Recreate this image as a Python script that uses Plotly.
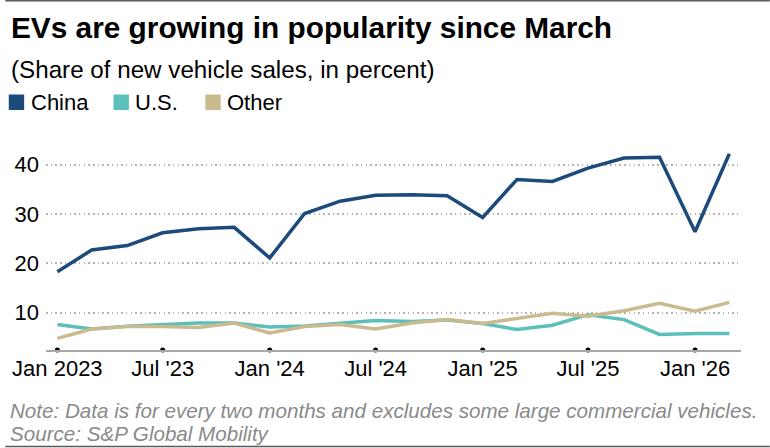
import plotly.graph_objects as go

# ---------------- data ----------------
dates = ["2023-01-01", "2023-03-01", "2023-05-01", "2023-07-01", "2023-09-01", "2023-11-01",
         "2024-01-01", "2024-03-01", "2024-05-01", "2024-07-01", "2024-09-01", "2024-11-01",
         "2025-01-01", "2025-03-01", "2025-05-01", "2025-07-01", "2025-09-01", "2025-11-01",
         "2026-01-01", "2026-03-01"]
china = [18.3, 22.7, 23.6, 26.2, 27.0, 27.3, 21.1, 30.1, 32.6, 33.8, 33.9, 33.7,
         29.3, 37.0, 36.6, 39.3, 41.35, 41.5, 26.4, 42.2]
us = [7.6, 6.7, 7.25, 7.6, 7.9, 7.9, 7.1, 7.3, 7.8, 8.4, 8.2, 8.5,
      7.8, 6.6, 7.45, 9.6, 8.6, 5.6, 5.8, 5.8]
other = [4.8, 6.7, 7.2, 7.2, 7.0, 7.9, 5.9, 7.2, 7.6, 6.7, 7.9, 8.6,
         7.8, 8.8, 9.9, 9.3, 10.4, 11.9, 10.3, 12.1]

series_names = ["China", "U.S.", "Other"]
series_values = [china, us, other]
series_colors = ["#1b4a7b", "#5bbfba", "#c9bb8f"]

x_tick_vals = ["2023-01-01", "2023-07-01", "2024-01-01", "2024-07-01",
               "2025-01-01", "2025-07-01", "2026-01-01"]
x_tick_text = ["Jan 2023", "Jul '23", "Jan '24", "Jul '24", "Jan '25", "Jul '25", "Jan '26"]
y_tick_vals = [10, 20, 30, 40]

title = "EVs are growing in popularity since March"
subtitle = "(Share of new vehicle sales, in percent)"
note = "Note: Data is for every two months and excludes some large commercial vehicles."
source = "Source: S&P Global Mobility"

# ---------------- layout constants ----------------
W, H = 770, 448
ML, MR, MT, MB = 41, 29, 140, 98
PW, PH = W - ML - MR, H - MT - MB
Y_RANGE = [2.44, 45.0]
X_RANGE = ["2022-12-12 12:00", "2026-03-21"]
FONT = "Liberation Sans, Arial, sans-serif"


def px_x(p):
    return (p - ML) / PW


def px_y(p):
    return (H - MB - p) / PH


fig = go.Figure()

for name, vals, col in zip(series_names, series_values, series_colors):
    fig.add_trace(go.Scatter(x=dates, y=vals, mode="lines", name=name,
                             line=dict(color=col, width=3.5), showlegend=False))

# tick dots on the x axis
fig.add_trace(go.Scatter(x=x_tick_vals, y=[Y_RANGE[0]] * len(x_tick_vals), mode="markers",
                         marker=dict(color="black", size=5), cliponaxis=False,
                         showlegend=False, hoverinfo="skip"))

shapes = []
annotations = []

# top and bottom rules
for py in (0.75, 446.5):
    shapes.append(dict(type="line", xref="paper", yref="paper",
                       x0=px_x(0), x1=px_x(W), y0=px_y(py), y1=px_y(py),
                       line=dict(color="#5a5a5a", width=1.5)))

# title / subtitle
annotations.append(dict(text="<b>" + title + "</b>", xref="paper", yref="paper",
                        x=px_x(4), y=px_y(28), xanchor="left", yanchor="middle",
                        showarrow=False, font=dict(family=FONT, size=29.8, color="black")))
annotations.append(dict(text=subtitle, xref="paper", yref="paper",
                        x=px_x(4), y=px_y(69), xanchor="left", yanchor="middle",
                        showarrow=False, font=dict(family=FONT, size=24.2, color="black")))

# legend (squares + labels)
legend_sq_x = [3.5, 109, 201.5]
for name, col, sx in zip(series_names, series_colors, legend_sq_x):
    shapes.append(dict(type="rect", xref="paper", yref="paper",
                       x0=px_x(sx), x1=px_x(sx + 15.5), y0=px_y(110), y1=px_y(94.5),
                       fillcolor=col, line=dict(width=0)))
    annotations.append(dict(text=name, xref="paper", yref="paper",
                            x=px_x(sx + 20), y=px_y(102.5), xanchor="left", yanchor="middle",
                            showarrow=False, font=dict(family=FONT, size=22, color="black")))

# notes
annotations.append(dict(text="<i>" + note + "</i>", xref="paper", yref="paper",
                        x=px_x(3), y=px_y(410), xanchor="left", yanchor="middle",
                        showarrow=False, font=dict(family=FONT, size=20.6, color="#8a8a8a")))
annotations.append(dict(text="<i>" + source + "</i>", xref="paper", yref="paper",
                        x=px_x(3), y=px_y(433), xanchor="left", yanchor="middle",
                        showarrow=False, font=dict(family=FONT, size=20.6, color="#8a8a8a")))

fig.update_layout(
    width=W, height=H,
    margin=dict(l=ML, r=MR, t=MT, b=MB, pad=0),
    paper_bgcolor="white", plot_bgcolor="white",
    shapes=shapes, annotations=annotations,
    showlegend=False,
    font=dict(family=FONT, color="black"),
)

fig.update_xaxes(type="date", range=X_RANGE, tickvals=x_tick_vals, ticktext=x_tick_text,
                 showgrid=False, zeroline=False, showline=True, linecolor="#a8a8a8",
                 linewidth=2, ticks="", tickfont=dict(family=FONT, size=22, color="black"),
                 ticklabelstandoff=-2)
fig.update_yaxes(range=Y_RANGE, tickvals=y_tick_vals, showgrid=True, gridcolor="#b5b5b5",
                 gridwidth=1.5, griddash="1.5px,3.2px", zeroline=False, showline=False,
                 ticks="", tickfont=dict(family=FONT, size=22, color="black"),
                 ticklabelstandoff=6)

fig.write_html("out.html")
